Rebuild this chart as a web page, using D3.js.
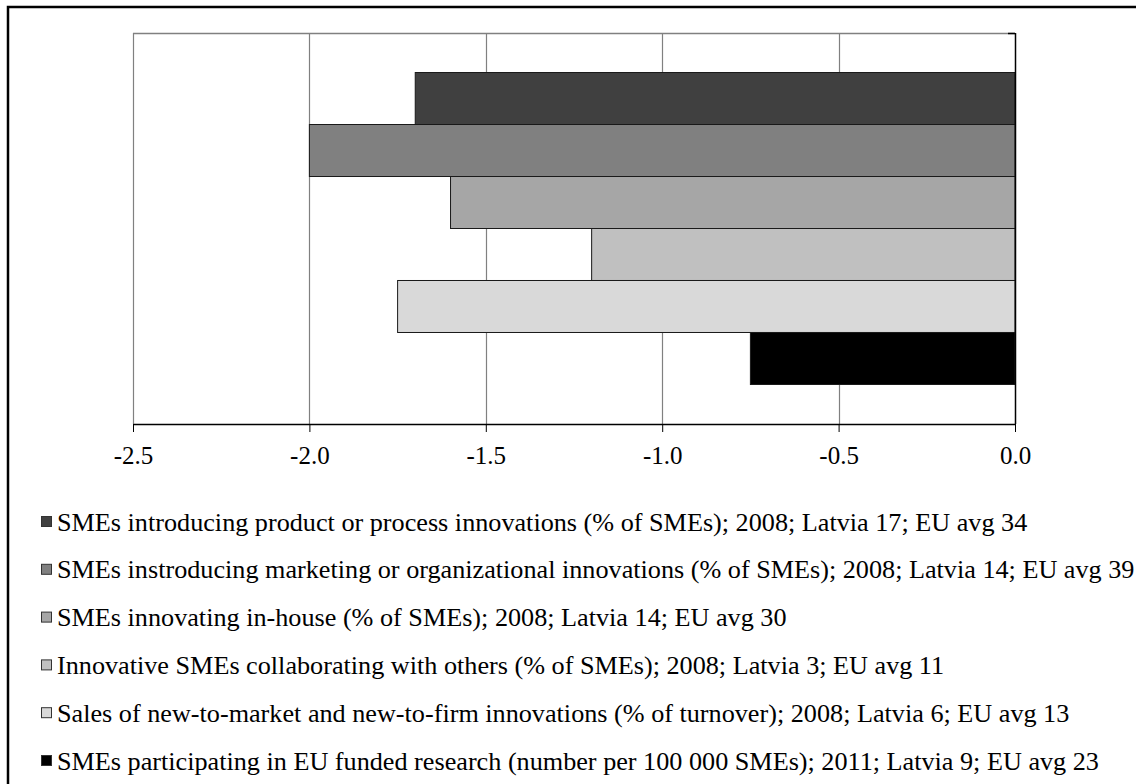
<!DOCTYPE html>
<html><head><meta charset="utf-8">
<script src="https://cdn.jsdelivr.net/npm/d3@7"></script>
<style>body{margin:0;background:#fff;} svg{display:block;} text{font-family:"Liberation Serif","DejaVu Serif",serif;}</style>
</head><body>
<svg id="c" width="1136" height="784"></svg>
<script>
const seriesNames = [
  "SMEs introducing product or process innovations (% of SMEs); 2008; Latvia 17; EU avg 34",
  "SMEs instroducing marketing or organizational innovations (% of SMEs); 2008; Latvia 14; EU avg 39",
  "SMEs innovating in-house (% of SMEs); 2008; Latvia 14; EU avg 30",
  "Innovative SMEs collaborating with others (% of SMEs); 2008; Latvia 3; EU avg 11",
  "Sales of new-to-market and new-to-firm innovations (% of turnover); 2008; Latvia 6; EU avg 13",
  "SMEs participating in EU funded research (number per 100 000 SMEs); 2011; Latvia 9; EU avg 23"
];
const seriesValues = [-1.70, -2.00, -1.60, -1.20, -1.75, -0.75];
const seriesColors = ["#404040", "#808080", "#a6a6a6", "#c0c0c0", "#d9d9d9", "#000000"];
const tickValues = [-2.5, -2.0, -1.5, -1.0, -0.5, 0.0];

const svg = d3.select("#c");
const FF = '"Liberation Serif","DejaVu Serif",serif';

// outer frame
svg.append("rect").attr("x", 8).attr("y", 7).attr("width", 1200).attr("height", 900)
  .attr("fill", "none").attr("stroke", "#000").attr("stroke-width", 2.5);

const L = 133, R = 1015, T = 33, B = 424;
const x = d3.scaleLinear().domain([-2.5, 0]).range([L, R]);
const y = d3.scaleBand().domain(d3.range(seriesNames.length)).range([T, B])
  .paddingInner(0).paddingOuter(0.76);

// top border
svg.append("line").attr("x1", L).attr("x2", R).attr("y1", T + 0.5).attr("y2", T + 0.5)
  .attr("stroke", "#808080").attr("stroke-width", 1.5);

// gridlines
svg.append("g").selectAll("line").data(tickValues.filter(v => v !== 0)).join("line")
  .attr("x1", d => Math.round(x(d)) + 0.5).attr("x2", d => Math.round(x(d)) + 0.5)
  .attr("y1", T).attr("y2", B)
  .attr("stroke", "#808080").attr("stroke-width", 1.2);

// bars
svg.append("g").selectAll("rect").data(seriesValues).join("rect")
  .attr("x", d => x(d)).attr("width", d => x(0) - x(d))
  .attr("y", (d, i) => y(i)).attr("height", y.bandwidth())
  .attr("fill", (d, i) => seriesColors[i])
  .attr("stroke", "#1a1a1a").attr("stroke-width", 1);

// vertical axis at zero
svg.append("line").attr("x1", R + 0.5).attr("x2", R + 0.5).attr("y1", T).attr("y2", B)
  .attr("stroke", "#000").attr("stroke-width", 1.5);
svg.append("line").attr("x1", R - 7).attr("x2", R).attr("y1", T + 0.5).attr("y2", T + 0.5)
  .attr("stroke", "#000").attr("stroke-width", 1.5);

// x axis
const xAxis = d3.axisBottom(x).tickValues(tickValues).tickFormat(d => d3.format(".1f")(d).replace("\u2212", "-"))
  .tickSizeInner(8).tickSizeOuter(0).tickPadding(14);
const gx = svg.append("g").attr("transform", `translate(0,${B})`).call(xAxis);
gx.select(".domain").attr("stroke", "#000").attr("stroke-width", 1.5);
gx.selectAll(".tick line").attr("stroke", "#000");
gx.selectAll(".tick text").style("font-family", FF)
  .style("font-size", "25px").attr("fill", "#000");

// legend
const lg = svg.append("g");
const rowY = d3.scalePoint().domain(d3.range(seriesNames.length)).range([522, 761]);
const rows = lg.selectAll("g").data(seriesNames).join("g")
  .attr("transform", (d, i) => `translate(0,${rowY(i)})`);
rows.append("rect").attr("x", 41.5).attr("y", -5.5).attr("width", 10).attr("height", 10)
  .attr("fill", (d, i) => seriesColors[i]).attr("stroke", "#333").attr("stroke-width", 1);
rows.append("text").attr("x", 57).attr("y", 8.5)
  .style("font-family", FF).style("font-size", "26.2px").attr("fill", "#000")
  .text(d => d);
</script>
</body></html>
